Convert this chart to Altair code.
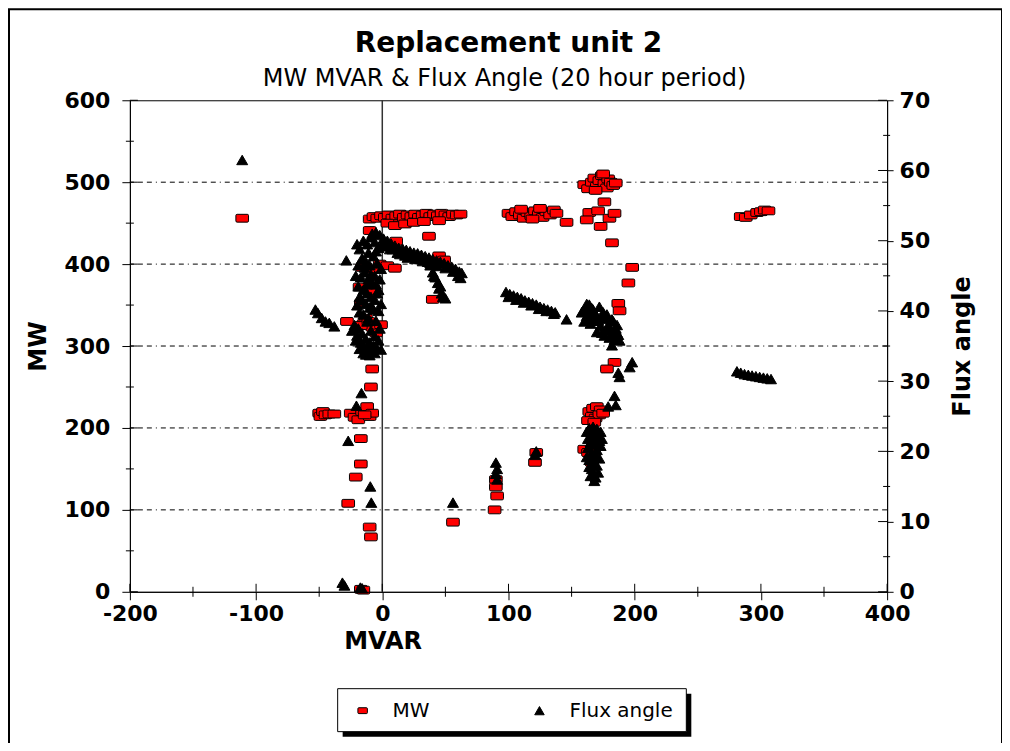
import altair as alt
import pandas as pd

# ---------------- data ----------------
mw_mvar = [-111,
           -10, -7, -4, -1, 2, 5, 8, 11, 14, 17, 20, 23, 26, 29, 32, 35, 38, 41, 44, 47, 50, 53, 56, 59, 62,
           4, 10, 18, 25, 33, 45,
           37, -10, 11, 45, 49,
           -16, -8, -2, 4, 10,
           40, -18, -10, -17, -28,
           -13, -15, -8, -1, -5, -17, -11,
           -8, -9,
           -50, -49, -47, -45, -42, -38, -25, -22, -19, -16, -12, -10, -8, -14,
           -17, -17, -21, -27, -10, -9, -17, -15,
           56,
           90, 90, 91, 89,
           121, 122,
           100, 103, 106, 109, 112, 115, 118, 121, 124, 127, 130, 133, 136, 138, 110, 125, 119,
           146,
           160, 163, 166, 168, 170, 172, 174, 176, 178, 179, 181, 183, 185, 175, 169,
           176, 164, 171, 162, 173, 180, 184,
           182, 198, 195, 187, 188, 184, 178,
           164, 167, 170, 173, 166, 169, 172, 175, 163, 168,
           160, 166, 167, 163,
           284, 288, 292, 297, 300, 303, 306]
mw_values = [456,
             455, 458, 456, 459, 457, 460, 456, 459, 461, 457, 460, 458, 461, 457, 460, 462, 458, 461, 459, 462, 460, 458, 461, 460, 461,
             450, 447, 449, 451, 452, 453,
             434, 441, 428, 410, 405,
             396, 394, 400, 398, 395,
             357, 372, 365, 352, 330,
             334, 327, 323, 326, 316, 325, 330,
             272, 250,
             218, 214, 220, 216, 217, 217, 218, 213, 210, 220, 226, 214, 218, 216,
             187, 156, 140, 108, 79, 67, 3, 2,
             85,
             137, 128, 117, 100,
             158, 170,
             462, 458, 464, 460, 456, 463, 459, 465, 461, 457, 464, 460, 466, 462, 467, 468, 455,
             451,
             497, 492, 500, 505, 495, 502, 508, 498, 493, 504, 500, 496, 499, 510, 490,
             476, 463, 465, 454, 446, 456, 462,
             426, 396, 377, 352, 343, 280, 272,
             220, 224, 226, 222, 214, 212, 216, 218, 209, 207,
             174, 158, 165, 170,
             458, 457, 460, 463, 464, 466, 465]

flux_mvar = [-111, -28.5,
             -8, -5, -2, 1, 4, 7, 10, 13, 16, 19, 22, 25, 28, 31, 34, 37, 40, 43, 46, 49, 52, 55, 58, 61, 63,
             3, 8, 12, 18, 24, 30, 36, 42,
             0, 6, 14, 20, 26, 32, 38, 44, 50, 56, 60, 62,
             38, 40, 41, 42, 44, 45, 46, 47, 48, 50,
             -15, -12, -18, -16, -13, -10, -7, -4, -1, -14, -17, -11, -8, -5, -19, -15, -12, -9, -6, -16, -13, -10, -7,
             -20, -9, -6, -3, -19, -21, -2, -4, -1, -3, -18, -20, -5, -11, -14, -9, -6, -3, -12,
             -22, -19, -16, -13, -10, -7, -4, -17, -14, -11, -8, -20, -12, -9, -6, -3, -8,
             -18, -15, -11, -5, -2, -24, -21, -18, -15, -6, -1, -13, -10,
             -53, -51, -48, -45, -42, -38,
             -16.5, -20.5, -27, -9.5, -8.7, -31.6, -30, -17.4, -16,
             56,
             90, 91, 90, 91,
             122, 121,
             98, 101, 104, 107, 110, 113, 116, 119, 122, 125, 128, 131, 134, 137, 100, 106, 112, 118, 124, 130, 136,
             146,
             158, 161, 163, 165, 167, 169, 171, 173, 175, 177, 179, 181, 183, 185, 187, 170, 176, 180, 184, 164, 172, 160,
             159, 162, 166, 168, 174, 178, 182, 186, 170, 178, 174, 182, 186, 188, 166, 162,
             182, 198, 196, 188, 187, 184, 185, 179,
             164, 167, 170, 173, 166, 169, 172, 165, 168, 163, 166, 170, 164, 168, 166, 167, 169, 171,
             162, 165, 168, 171, 174, 163, 167, 170, 173, 162, 165, 169, 172, 164, 170, 165, 168,
             281, 284, 287, 290, 293, 296, 299, 302, 305, 308]
flux_values = [61.5, 47.2,
               51.0, 51.2, 50.8, 50.3, 50.0, 49.6, 49.3, 49.0, 48.9, 48.7, 48.5, 48.3, 48.2, 48.0, 47.8, 47.6, 47.4, 47.2, 47.0, 46.8, 46.5, 46.3, 46.0, 45.6, 45.4,
               49.2, 48.8, 48.3, 47.9, 47.8, 47.4, 47.0, 46.6,
               49.5, 48.8, 48.1, 47.6, 47.4, 47.1, 46.8, 46.4, 46.1, 45.6, 45.0, 44.7,
               46.5, 45.5, 45.0, 44.8, 44.0, 43.2, 43.5, 42.5, 42.0, 41.8,
               50.0, 49.5, 48.8, 47.5, 47.0, 46.5, 47.8, 46.8, 46.0, 45.5, 44.8, 44.5, 44.0, 43.8, 43.5, 43.0, 42.5, 42.0, 41.6, 41.5, 41.0, 40.5, 40.2,
               49.5, 50.5, 49.8, 49.0, 46.5, 45.0, 44.5, 42.5, 41.0, 40.0, 42.0, 40.8, 48.5, 48.3, 46.2, 45.2, 45.0, 43.0, 43.8,
               38.0, 37.5, 36.8, 36.0, 35.5, 35.0, 34.6, 35.5, 34.8, 34.4, 34.2, 36.5, 38.5, 37.2, 36.4, 35.8, 40.5,
               39.8, 39.5, 39.0, 38.6, 37.5, 37.2, 35.8, 34.6, 34.0, 34.0, 34.5, 33.8, 33.7,
               40.2, 39.7, 39.0, 38.5, 38.3, 37.8,
               28.3, 26.5, 21.5, 15.0, 12.7, 1.3, 0.9, 0.6, 0.5,
               12.7,
               18.4, 17.5, 16.8, 16.0,
               20.0, 19.5,
               42.7, 42.4, 42.2, 42.0, 41.8, 41.5, 41.3, 41.1, 40.9, 40.6, 40.4, 40.2, 40.0, 39.8, 42.0, 41.6, 41.2, 40.8, 40.3, 40.0, 39.6,
               38.8,
               39.8, 40.5, 39.0, 38.2, 40.2, 39.5, 38.7, 37.9, 39.8, 38.9, 38.0, 37.2, 38.5, 37.5, 36.6, 37.0, 36.5, 36.2, 35.9, 40.9, 40.6, 38.5,
               40.0, 39.3, 39.6, 38.6, 39.2, 39.5, 38.8, 38.0, 39.0, 37.3, 36.9, 36.6, 36.9, 35.8, 40.4, 41.0,
               35.1, 32.7, 32.0, 30.6, 31.2, 27.9, 26.6, 26.4,
               23.3, 23.5, 23.2, 22.8, 22.5, 22.0, 21.5, 21.3, 21.0, 20.5, 19.8, 20.2, 18.8, 18.3, 17.5, 16.8, 16.3, 17.0,
               22.8, 23.0, 22.7, 22.2, 21.8, 21.8, 21.7, 21.0, 20.8, 19.2, 19.0, 19.4, 19.0, 17.8, 18.0, 16.5, 15.8,
               31.4, 31.2, 31.0, 30.9, 30.8, 30.7, 30.6, 30.5, 30.4, 30.3]

x_ticks = [-200, -100, 0, 100, 200, 300, 400]
x_minor = [-150, -50, 50, 150, 250, 350]
mw_ticks = [0, 100, 200, 300, 400, 500, 600]
mw_minor = [50, 150, 250, 350, 450, 550]
mw_grid = [100, 200, 300, 400, 500]
flux_ticks = [0, 10, 20, 30, 40, 50, 60, 70]
flux_minor = [5, 15, 25, 35, 45, 55, 65]
series_names = ["MW", "Flux angle"]
series_colors = ["#ff0000", "#000000"]
title_text = ["Replacement unit 2"]
subtitle_text = ["MW MVAR & Flux Angle (20 hour period)"]

# ---------------- styling ----------------
W, H = 758, 492
FONT = "DejaVu Sans"
RRECT = ("M -0.8 -0.62 L 0.8 -0.62 Q 1 -0.62 1 -0.42 L 1 0.42 Q 1 0.62 0.8 0.62 "
         "L -0.8 0.62 Q -1 0.62 -1 0.42 L -1 -0.42 Q -1 -0.62 -0.8 -0.62 Z")

xs = alt.Scale(domain=[-200, 400], nice=False, zero=False)
mws = alt.Scale(domain=[0, 600], nice=False, zero=False)
fls = alt.Scale(domain=[0, 70], nice=False, zero=False)

mw_df = pd.DataFrame({"MVAR": mw_mvar, "value": mw_values, "series": "MW"})
flux_df = pd.DataFrame({"MVAR": flux_mvar, "value": flux_values, "series": "Flux angle"})
one = pd.DataFrame({"a": [0]})


def make_legend():
    return alt.Legend(orient="none", legendX=223, legendY=601, direction="horizontal",
                      title=None, labelFont=FONT, labelFontSize=20, labelColor="black",
                      symbolSize=90, symbolStrokeColor="black", symbolStrokeWidth=1,
                      labelOffset=20, columnPadding=99, padding=0)


color_enc = alt.Color("series:N", scale=alt.Scale(domain=series_names, range=series_colors),
                      legend=make_legend())
shape_enc = alt.Shape("series:N", scale=alt.Scale(domain=series_names, range=[RRECT, "triangle-up"]),
                      legend=make_legend())

common_axis = dict(labelExpr="'' + datum.value", labelFont=FONT, labelFontSize=22,
                   labelFontWeight="bold", labelColor="black", labelFlush=False, labelOverlap=False,
                   tickColor="black", domainColor="black", domainWidth=1, grid=False,
                   titleFont=FONT, titleFontSize=24, titleFontWeight="bold", titleColor="black",
                   zindex=1)

x_axis = alt.Axis(values=x_ticks, title="MVAR", labelPadding=4, tickSize=8,
                  titleX=253, titlePadding=5, **common_axis)
mw_axis = alt.Axis(values=mw_ticks, title="MW", labelPadding=12, tickSize=8,
                   titlePadding=14, **common_axis)
flux_axis = alt.Axis(values=flux_ticks, title="Flux angle", orient="right", labelPadding=6,
                     tickSize=6, titleAngle=270, titleX=75, titleY=H / 2, titleAlign="center",
                     titleBaseline="middle", **common_axis)

# decorations: outer chart frame, legend box with shadow
frame = alt.Chart(one).mark_rect(filled=False, stroke="black", strokeWidth=2).encode(
    x=alt.value(-121), x2=alt.value(873), y=alt.value(-91), y2=alt.value(700))
shadow = alt.Chart(one).mark_rect(fill="black").encode(
    x=alt.value(213), x2=alt.value(562), y=alt.value(594), y2=alt.value(637))
lbox = alt.Chart(one).mark_rect(fill="white", stroke="black", strokeWidth=1).encode(
    x=alt.value(208), x2=alt.value(557), y=alt.value(589), y2=alt.value(632))

title = alt.Chart(pd.DataFrame({"t": title_text})).mark_text(
    font=FONT, fontSize=28, fontWeight="bold", color="black", align="center", baseline="alphabetic"
).encode(x=alt.value(379), y=alt.value(-48), text="t:N")
subtitle = alt.Chart(pd.DataFrame({"t": subtitle_text})).mark_text(
    font=FONT, fontSize=24, color="black", align="center", baseline="alphabetic"
).encode(x=alt.value(375), y=alt.value(-14), text="t:N")

grid = alt.Chart(pd.DataFrame({"g": mw_grid})).mark_rule(
    color="black", strokeWidth=1, strokeDash=[5, 4, 5, 4, 5, 4, 1, 4]
).encode(y=alt.Y("g:Q", scale=mws, axis=mw_axis))
zero = alt.Chart(pd.DataFrame({"z": [0]})).mark_rule(color="#333333", strokeWidth=1.5).encode(
    x=alt.X("z:Q", scale=xs, axis=x_axis))

x_in = alt.Chart(pd.DataFrame({"t": x_ticks})).mark_rule(color="black").encode(
    x=alt.X("t:Q", scale=xs, axis=x_axis), y=alt.value(H - 8), y2=alt.value(H))
x_mn = alt.Chart(pd.DataFrame({"t": x_minor})).mark_rule(color="black").encode(
    x=alt.X("t:Q", scale=xs, axis=x_axis), y=alt.value(H - 5), y2=alt.value(H + 5))
y_in = alt.Chart(pd.DataFrame({"t": mw_ticks})).mark_rule(color="black").encode(
    y=alt.Y("t:Q", scale=mws, axis=mw_axis), x=alt.value(0), x2=alt.value(8))
y_mn = alt.Chart(pd.DataFrame({"t": mw_minor})).mark_rule(color="black").encode(
    y=alt.Y("t:Q", scale=mws, axis=mw_axis), x=alt.value(-4), x2=alt.value(4))

mw_pts = alt.Chart(mw_df).mark_point(filled=True, size=160, stroke="black", strokeWidth=1, opacity=1).encode(
    x=alt.X("MVAR:Q", scale=xs, axis=x_axis),
    y=alt.Y("value:Q", scale=mws, axis=mw_axis),
    color=color_enc, shape=shape_enc)

left = alt.layer(frame, shadow, lbox, title, subtitle, grid, zero, x_in, x_mn, y_in, y_mn, mw_pts)

f_in = alt.Chart(pd.DataFrame({"t": flux_ticks})).mark_rule(color="black").encode(
    y=alt.Y("t:Q", scale=fls, axis=flux_axis), x=alt.value(W - 9), x2=alt.value(W))
f_mn = alt.Chart(pd.DataFrame({"t": flux_minor})).mark_rule(color="black").encode(
    y=alt.Y("t:Q", scale=fls, axis=flux_axis), x=alt.value(W - 4), x2=alt.value(W + 3))
flux_pts = alt.Chart(flux_df).mark_point(filled=True, size=120, stroke="black", strokeWidth=1, opacity=1).encode(
    x=alt.X("MVAR:Q", scale=xs, axis=x_axis),
    y=alt.Y("value:Q", scale=fls, axis=flux_axis),
    color=color_enc, shape=shape_enc)

right = alt.layer(f_in, f_mn, flux_pts)

chart = alt.layer(left, right).resolve_scale(y="independent").properties(
    width=W, height=H,
    autosize=alt.AutoSizeParams(type="none"),
    padding={"left": 122, "top": 92, "right": 115, "bottom": 151},
    background="white",
).configure_view(stroke="black", strokeWidth=1)

chart.save("out.html", embed_options={"renderer": "svg", "actions": False})
